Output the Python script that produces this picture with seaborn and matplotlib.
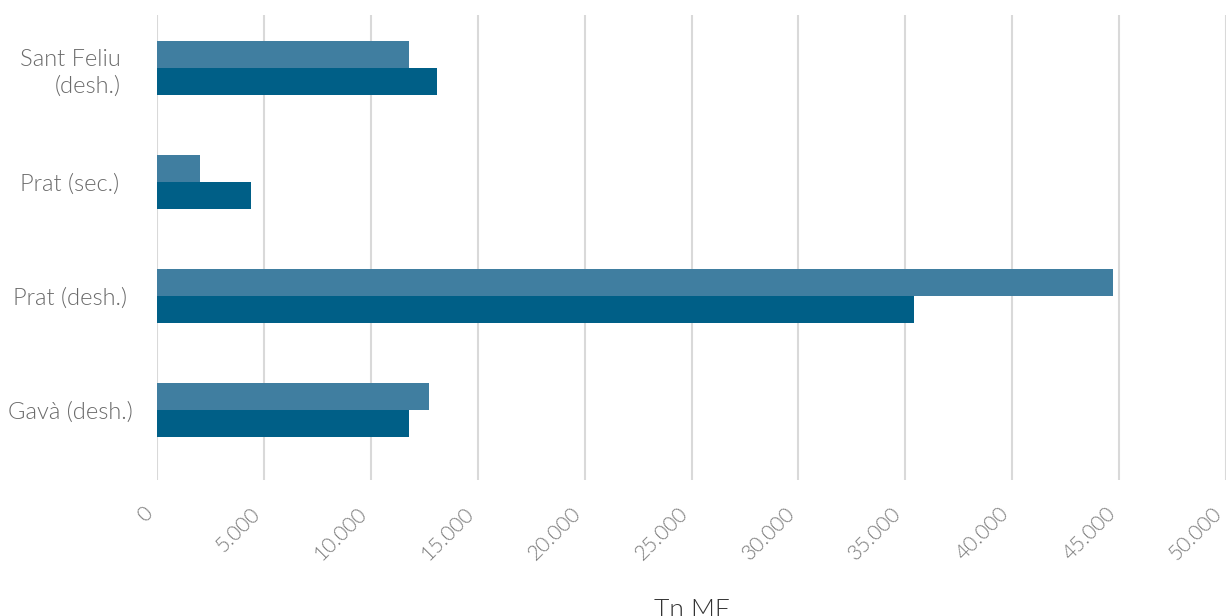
import matplotlib
matplotlib.use("Agg")
import matplotlib.pyplot as plt
from matplotlib import font_manager
from matplotlib import transforms
from matplotlib.ticker import FuncFormatter, MultipleLocator
import pandas as pd
import seaborn as sns

# Plant categories (top to bottom) and the two tonnage series
plants = ["Sant Feliu\n(desh.)", "Prat (sec.)", "Prat (desh.)", "Gavà (desh.)"]
series_names = ["A", "B"]
values_a = [11800, 2000, 44700, 12700]
values_b = [13100, 4400, 35400, 11800]
palette = ["#407EA0", "#005F87"]

df = pd.DataFrame({
    "plant": plants * 2,
    "series": [series_names[0]] * len(plants) + [series_names[1]] * len(plants),
    "tn": values_a + values_b,
})

sns.set_theme(style="white")

# Prefer a thin sans family for the text
families = {f.name for f in font_manager.fontManager.ttflist}
family = next((f for f in ["Lato", "Open Sans", "Roboto", "Noto Sans"] if f in families), "DejaVu Sans")
plt.rcParams["font.family"] = [family, "DejaVu Sans"]
WEIGHT = 300
plt.rcParams["font.weight"] = WEIGHT

fig = plt.figure(figsize=(12.31, 6.16), dpi=100)
ax = fig.add_axes([157 / 1231, 1 - 480 / 616, (1226 - 157) / 1231, (480 - 15) / 616])

sns.barplot(data=df, y="plant", x="tn", hue="series", order=plants,
            hue_order=series_names, palette=palette, orient="h",
            width=0.47, gap=0, saturation=1, legend=False, ax=ax,
            linewidth=0)

ax.set_xlim(0, 50000)
ax.set_ylim(3.614, -0.465)
ax.xaxis.set_major_locator(MultipleLocator(5000))
ax.xaxis.set_major_formatter(FuncFormatter(lambda v, p: f"{int(v):,}".replace(",", ".")))
ax.grid(axis="x", color="#D9D9D9", linewidth=1.5)
ax.grid(axis="y", visible=False)
ax.set_axisbelow(True)
for s in ax.spines.values():
    s.set_visible(False)

label_color = "#6A6A6A"
ax.tick_params(axis="x", length=0, pad=17, labelsize=15, labelcolor="#7A7A7A")
shift = transforms.ScaledTranslation(-14 / 100, 0, fig.dpi_scale_trans)
for lbl in ax.get_xticklabels():
    lbl.set_rotation(45)
    lbl.set_ha("right")
    lbl.set_rotation_mode("anchor")
    lbl.set_fontweight(WEIGHT)
    lbl.set_transform(lbl.get_transform() + shift)

ax.tick_params(axis="y", length=0, pad=87 * 72 / 100, labelsize=17, labelcolor=label_color)
for lbl in ax.get_yticklabels():
    lbl.set_ha("center")
    lbl.set_multialignment("right")
    lbl.set_fontweight(WEIGHT)
    lbl.set_linespacing(1.35)

ax.set_ylabel("")
ax.set_xlabel("Tn MF", fontsize=19, color="#333333", fontweight=WEIGHT)
ax.xaxis.set_label_coords(0.5, (480 - 598) / 465)

fig.savefig("out.png", dpi=100)
